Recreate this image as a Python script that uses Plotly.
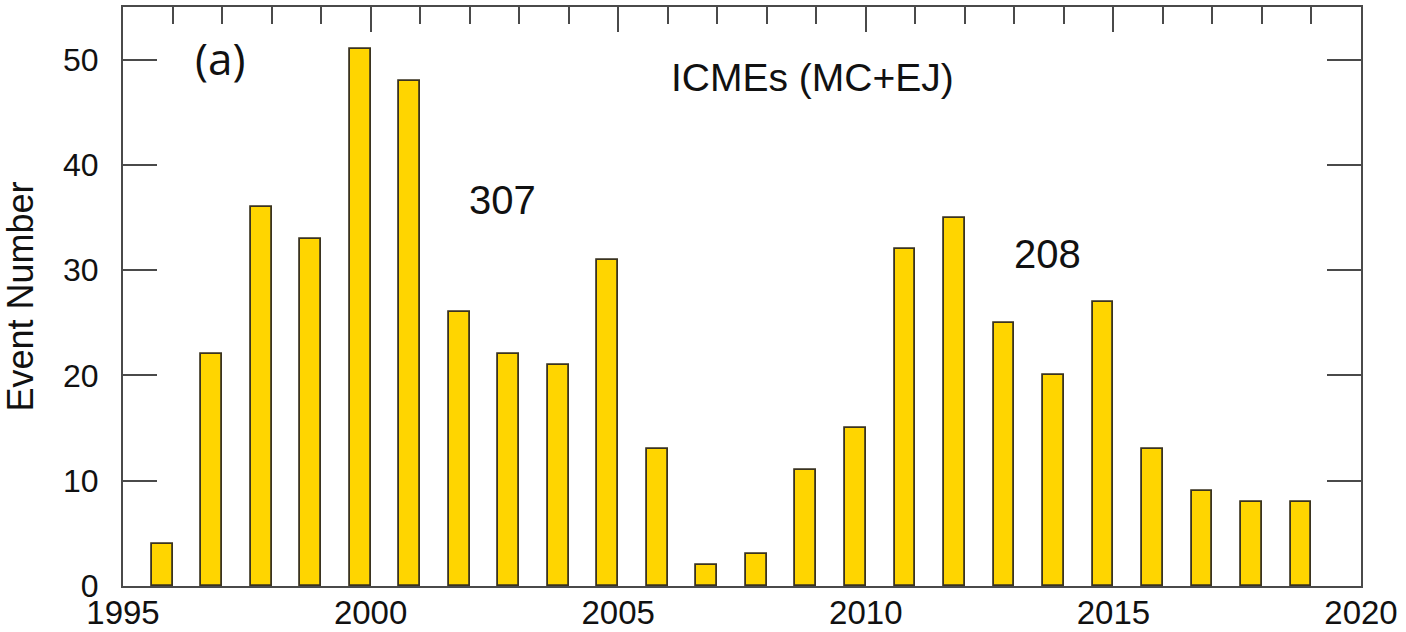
import plotly.graph_objects as go

# Yearly ICME counts (magnetic clouds + ejecta)
years = list(range(1996, 2020))
events = [4, 22, 36, 33, 51, 48, 26, 22, 21, 31, 13, 2,
          3, 11, 15, 32, 35, 25, 20, 27, 13, 9, 8, 8]

# Year spans summed for each solar-cycle total
cycle_spans = [(1996, 2006), (2007, 2019)]
cycle_label_pos = [(2002.66, 36.7), (2013.67, 31.5)]

x_ticks = [1995, 2000, 2005, 2010, 2015, 2020]
y_ticks = [0, 10, 20, 30, 40, 50]

axis_color = "#4a4a4a"
bar_color = "#FFD500"
text_font = "Liberation Sans, Arial, Helvetica, sans-serif"

fig = go.Figure()

fig.add_trace(go.Bar(
    x=years,
    y=events,
    width=0.42,
    offset=-0.42,
    marker=dict(color=bar_color, line=dict(color="#3a3320", width=1.8)),
    showlegend=False,
))

# Invisible trace on its own axis pair so the top year ticks get drawn
fig.add_trace(go.Scatter(x=[1995, 2020], y=[0, 0], xaxis="x2", yaxis="y2",
                         mode="markers", marker=dict(opacity=0),
                         showlegend=False, hoverinfo="skip"))

for (start, end), (lx, ly) in zip(cycle_spans, cycle_label_pos):
    total = sum(v for y, v in zip(years, events) if start <= y <= end)
    fig.add_annotation(x=lx, y=ly, text=str(total), showarrow=False,
                       font=dict(size=40, color="#111", family=text_font))

fig.add_annotation(x=2008.92, y=48.3, text="ICMEs (MC+EJ)", showarrow=False,
                   font=dict(size=39, color="#111", family=text_font))
fig.add_annotation(x=1996.96, y=50.2, text="(a)", showarrow=False,
                   font=dict(size=44, color="#111", family="Open Sans, Noto Sans, sans-serif"))

fig.update_layout(
    width=1406,
    height=632,
    margin=dict(l=123, r=45, t=7, b=46),
    paper_bgcolor="white",
    plot_bgcolor="white",
    bargap=0,
    xaxis=dict(
        range=[1995, 2020],
        tickvals=x_ticks,
        ticks="",
        ticklabelstandoff=-4,
        automargin=False,
        showgrid=False,
        zeroline=False,
        showline=True,
        mirror=True,
        linecolor=axis_color,
        linewidth=2,
        tickfont=dict(size=33, color="#111", family=text_font),
    ),
    xaxis2=dict(
        overlaying="x",
        anchor="y2",
        side="top",
        range=[1995, 2020],
        tick0=1995,
        dtick=5,
        ticks="inside",
        ticklen=25,
        tickwidth=2,
        tickcolor=axis_color,
        showticklabels=False,
        automargin=False,
        showgrid=False,
        zeroline=False,
        showline=False,
        minor=dict(ticks="inside", ticklen=17, tickwidth=2, tickcolor=axis_color,
                   dtick=1, tick0=1995, showgrid=False),
    ),
    yaxis=dict(
        range=[0, 55],
        tickvals=y_ticks,
        ticks="inside",
        ticklen=34,
        tickwidth=2,
        tickcolor=axis_color,
        ticklabelstandoff=16,
        automargin=False,
        showgrid=False,
        zeroline=False,
        showline=True,
        mirror="allticks",
        linecolor=axis_color,
        linewidth=2,
        tickfont=dict(size=32, color="#111", family=text_font),
        title=dict(text="Event Number", standoff=18,
                   font=dict(size=36, color="#111", family=text_font)),
    ),
    yaxis2=dict(
        overlaying="y",
        anchor="x2",
        range=[0, 55],
        visible=False,
    ),
)

fig.write_html("out.html")
